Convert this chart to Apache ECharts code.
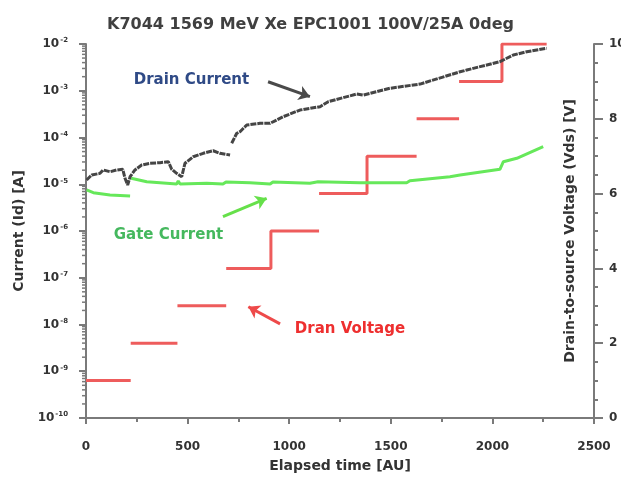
<!DOCTYPE html>
<html>
<head>
<meta charset="utf-8">
<script src="https://cdn.jsdelivr.net/npm/echarts@6/dist/echarts.min.js"></script>
<style>html,body{margin:0;padding:0;background:#fff}#c{width:621px;height:487px}</style>
</head>
<body>
<div id="c"></div>
<script>
// ---- data ----
const titleText = 'K7044 1569 MeV Xe EPC1001 100V/25A 0deg';
const xTicks = [0, 500, 1000, 1500, 2000, 2500];
const vTicks = [0, 2, 4, 6, 8, 10];
const logDecades = [-10, -9, -8, -7, -6, -5, -4, -3];   // decades that carry minor ticks
const logMinorSteps = [2, 3, 4, 5, 6, 7, 8, 9];

// Drain current [A] (null = gap in the trace)
const drainTime    = [3, 28, 69, 84, 118, 151, 181, 192, 205, 217, 241, 274, 315, 364, 405, 422, 446, 471, 487, 528, 577, 626, 659, 709, 713, 717, 742, 758, 791, 856, 906, 971, 1053, 1152, 1192, 1332, 1365, 1496, 1644, 1841, 1874, 2037, 2103, 2169, 2267];
const drainCurrent = [1.23e-5, 1.58e-5, 1.71e-5, 2.02e-5, 1.85e-5, 2.02e-5, 2.09e-5, 1.34e-5, 9.6e-6, 1.45e-5, 2.02e-5, 2.58e-5, 2.81e-5, 2.89e-5, 3.04e-5, 2.09e-5, 1.71e-5, 1.45e-5, 2.81e-5, 3.88e-5, 4.59e-5, 5.21e-5, 4.59e-5, 4.22e-5, null, 7.52e-5, 1.23e-4, 1.33e-4, 1.85e-4, 2.01e-4, 2.01e-4, 2.79e-4, 3.87e-4, 4.56e-4, 5.83e-4, 8.51e-4, 8.1e-4, 1.13e-3, 1.39e-3, 2.55e-3, 2.78e-3, 4.18e-3, 5.82e-3, 6.84e-3, 8.09e-3];

// Gate current [A]
const gateTime    = [3, 36, 118, 217, 219, 222, 299, 446, 454, 463, 594, 674, 689, 807, 906, 920, 1102, 1142, 1348, 1578, 1594, 1791, 1841, 2037, 2054, 2120, 2250];
const gateCurrent = [7.54e-6, 6.59e-6, 5.89e-6, 5.61e-6, null, 1.34e-5, 1.13e-5, 1.01e-5, 1.17e-5, 1.01e-5, 1.05e-5, 1.01e-5, 1.12e-5, 1.08e-5, 1.01e-5, 1.12e-5, 1.05e-5, 1.13e-5, 1.08e-5, 1.08e-5, 1.19e-5, 1.45e-5, 1.58e-5, 2.09e-5, 3.03e-5, 3.59e-5, 6.35e-5];

// Drain-to-source voltage steps [V]
const vdsTime   = [0, 220, 450, 690, 910, 1147, 1383, 1627, 1836, 2047, 2267];
const vdsLevel  = [1, 2, 3, 4, 5, 6, 7, 8, 9, 10];
const vdsJoined = [false, false, false, true, false, true, false, false, true];

// Annotations (data coordinates: time, current)
const annoTexts  = ['Drain Current', 'Gate Current', 'Dran Voltage'];
const annoAt     = [[519, 1.7e-3], [406, 8.2e-7], [1299, 7.8e-9]];
const arrowFrom  = [[896, 1.56e-3], [674, 2.02e-6], [955, 1.03e-8]];
const arrowTo    = [[1102, 7.46e-4], [889, 5.0e-6], [799, 2.4e-8]];

// ---- build ----
const FONT = 'DejaVu Sans';
const cDrain = '#454545', cGate = '#66e85a', cVds = '#ee5c5c';
const annoColors = ['#2f4a86', '#45b85e', '#ee2f2f'];
const arrowColors = ['#4a4a4a', '#66e04a', '#ee4a4a'];
const tickColor = '#7a7a7a';

function pairs(t, v) { return t.map((x, i) => [x, v[i] === null ? '-' : v[i]]); }

const vdsData = [];
for (let i = 0; i < vdsLevel.length; i++) {
  vdsData.push([vdsTime[i], vdsLevel[i]]);
  vdsData.push([vdsTime[i + 1], vdsLevel[i]]);
  if (i < vdsLevel.length - 1 && !vdsJoined[i]) vdsData.push([vdsTime[i + 1], '-']);
}

// minor tick positions of the log axis (2..9 x 10^n)
const minorLogTicks = [];
logDecades.forEach(d => logMinorSteps.forEach(m => minorLogTicks.push([0, m * Math.pow(10, d)])));

const chart = echarts.init(document.getElementById('c'), null, {renderer: 'canvas'});
const axisLineStyle = {color: tickColor, width: 2};
const labelBase = {color: '#333', fontFamily: FONT, fontWeight: 'bold', fontSize: 12};

chart.setOption({
  animation: false,
  backgroundColor: '#fff',
  title: {
    text: titleText, left: 'center', top: 12,
    textStyle: {fontFamily: FONT, fontWeight: 'bold', fontSize: 16, color: '#404040'}
  },
  grid: {left: 86, right: 27, top: 44, bottom: 69, containLabel: false, outerBoundsMode: 'none'},
  xAxis: {
    type: 'value', min: 0, max: 2500, interval: 500,
    name: 'Elapsed time [AU]', nameLocation: 'middle', nameGap: 41,
    nameTextStyle: {fontFamily: FONT, fontWeight: 'bold', fontSize: 14, color: '#333'},
    axisLine: {show: true, onZero: false, lineStyle: axisLineStyle},
    axisTick: {show: true, length: 6, lineStyle: {color: tickColor, width: 2}},
    minorTick: {show: true, splitNumber: 2, length: 4, lineStyle: {color: tickColor, width: 2}},
    splitLine: {show: false},
    axisLabel: Object.assign({margin: 23, formatter: v => xTicks.includes(v) ? String(v) : ''}, labelBase)
  },
  yAxis: [{
    type: 'log', logBase: 10, min: 1e-10, max: 1e-2, splitNumber: 8,
    name: 'Current (Id) [A]', nameLocation: 'middle', nameGap: 55,
    nameTextStyle: {fontFamily: FONT, fontWeight: 'bold', fontSize: 14, color: '#333'},
    axisLine: {show: true, lineStyle: axisLineStyle},
    axisTick: {show: true, length: 7, lineStyle: {color: tickColor, width: 2}},
    splitLine: {show: false},
    axisLabel: {
      margin: 18,
      formatter: v => '{b|10}{s|' + Math.round(Math.log10(v)) + '}',
      rich: {
        b: {color: '#333', fontFamily: FONT, fontWeight: 'bold', fontSize: 12, lineHeight: 14},
        s: {color: '#333', fontFamily: FONT, fontWeight: 'bold', fontSize: 7, lineHeight: 14, verticalAlign: 'top', padding: [0, 0, 6, 1]}
      }
    }
  }, {
    type: 'value', min: 0, max: 10, interval: 2, position: 'right',
    name: 'Drain-to-source Voltage (Vds) [V]', nameLocation: 'middle', nameGap: -31, nameRotate: 90,
    nameTextStyle: {fontFamily: FONT, fontWeight: 'bold', fontSize: 14, color: '#333'},
    axisLine: {show: true, lineStyle: axisLineStyle},
    axisTick: {show: true, length: 9, lineStyle: {color: tickColor, width: 2}},
    minorTick: {show: true, splitNumber: 4, length: 4, lineStyle: {color: tickColor, width: 2}},
    splitLine: {show: false},
    axisLabel: Object.assign({margin: 15}, labelBase)
  }],
  series: [{
    name: 'log minor ticks', type: 'custom', yAxisIndex: 0, data: minorLogTicks,
    silent: true, clip: false, z: 1,
    renderItem: function (params, api) {
      const p = api.coord([api.value(0), api.value(1)]);
      return {type: 'line', shape: {x1: p[0] - 4, y1: p[1], x2: p[0], y2: p[1]},
              style: {stroke: tickColor, lineWidth: 1.5}};
    }
  }, {
    name: 'Drain Voltage', type: 'line', yAxisIndex: 1, data: vdsData,
    showSymbol: false, connectNulls: false,
    lineStyle: {color: cVds, width: 3}, z: 2
  }, {
    name: 'Gate Current', type: 'line', yAxisIndex: 0, data: pairs(gateTime, gateCurrent),
    showSymbol: false, connectNulls: false,
    lineStyle: {color: cGate, width: 3}, z: 3
  }, {
    name: 'Drain Current', type: 'line', yAxisIndex: 0, data: pairs(drainTime, drainCurrent),
    showSymbol: false, connectNulls: false,
    lineStyle: {color: cDrain, width: 3, type: [6, 1]}, z: 4,
    markLine: {
      silent: true, symbol: ['none', 'arrow'], symbolSize: 11,
      label: {show: false},
      data: arrowFrom.map((f, i) => [
        {coord: f, lineStyle: {color: arrowColors[i], width: 3, type: 'solid'}, itemStyle: {color: arrowColors[i]}},
        {coord: arrowTo[i]}
      ])
    },
    markPoint: {
      silent: true, symbol: 'circle', symbolSize: 0,
      data: annoAt.map((c, i) => ({
        coord: c,
        label: {show: true, position: 'inside', formatter: annoTexts[i], color: annoColors[i],
                fontFamily: FONT, fontWeight: 'bold', fontSize: 15}
      }))
    }
  }]
});
</script>
</body>
</html>
